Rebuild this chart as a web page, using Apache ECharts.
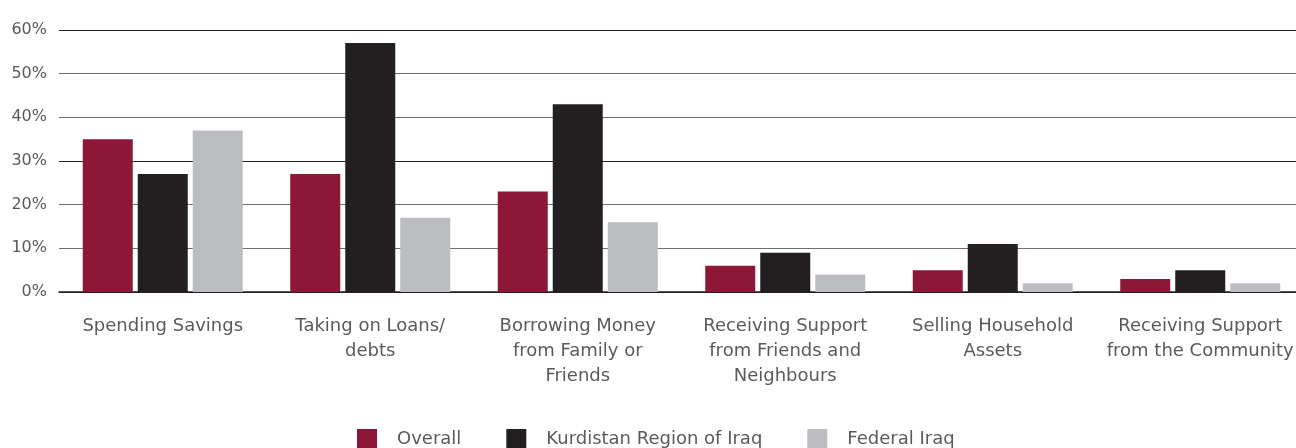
<!DOCTYPE html>
<html><head><meta charset="utf-8">
<script src="https://cdn.jsdelivr.net/npm/echarts@6/dist/echarts.min.js"></script>
<style>html,body{margin:0;padding:0;background:#fff;overflow:hidden}#c{width:1304px;height:448px}</style>
</head><body><div id="c"></div>
<script>
const categories = ['Spending Savings','Taking on Loans/\ndebts','Borrowing Money\nfrom Family or\nFriends','Receiving Support\nfrom Friends and\nNeighbours','Selling Household\nAssets','Receiving Support\nfrom the Community'];
const seriesNames = ['Overall','Kurdistan Region of Iraq','Federal Iraq'];
const overall = [35, 27, 23, 6, 5, 3];
const kurdistan = [27, 57, 43, 9, 11, 5];
const federal = [37, 17, 16, 4, 2, 2];
const yTicks = [0, 10, 20, 30, 40, 50, 60];
const colors = ['#8c1737', '#231f20', '#bcbdc0'];
const font = '"DejaVu Sans", sans-serif';
const chart = echarts.init(document.getElementById('c'), null, {renderer:'canvas'});
const vals = [overall, kurdistan, federal];
chart.setOption({
  animation: false,
  textStyle: {fontFamily: font},
  legend: {
    bottom: -6, left: 352,
    itemWidth: 20, itemHeight: 20, itemGap: 45,
    icon: 'rect',
    textStyle: {fontSize: 18, color: '#5a5a5c', fontFamily: font, padding: [0,0,0,15]},
    data: seriesNames
  },
  grid: {left: 59, right: 0, top: 30, bottom: 156, containLabel: false},
  xAxis: {
    type: 'category', data: categories,
    axisTick: {show: false},
    axisLine: {lineStyle: {color: '#231f20', width: 1.5}},
    axisLabel: {fontSize: 18, color: '#5a5a5c', fontFamily: font, margin: 22, lineHeight: 25, interval: 0}
  },
  yAxis: {
    type: 'value', min: yTicks[0], max: yTicks[yTicks.length-1], interval: 10,
    axisLine: {show: false}, axisTick: {show: false},
    axisLabel: {formatter: '{value}%', fontSize: 16, color: '#5a5a5c', fontFamily: font, margin: 12},
    splitLine: {lineStyle: {color: ['#231f20','#6d6e71','#6d6e71','#231f20','#6d6e71','#6d6e71','#231f20'], width: 1.2}}
  },
  series: seriesNames.map((n, i) => ({
    name: n, type: 'bar', data: vals[i], barWidth: 50, barGap: '10%',
    itemStyle: {color: colors[i]}
  }))
});
</script></body></html>
